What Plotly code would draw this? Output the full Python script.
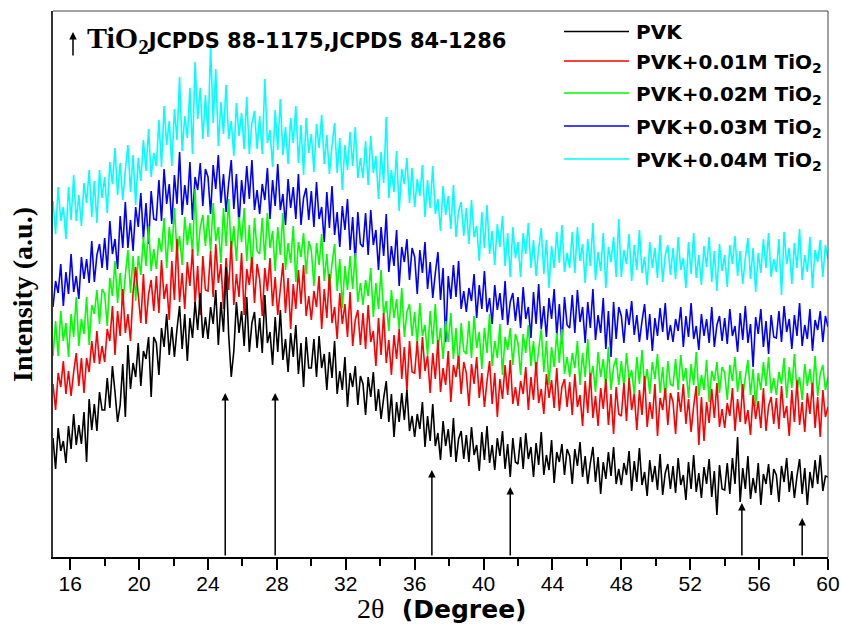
import numpy as np
import plotly.graph_objects as go

# 2-theta grid (degrees), 0.15 deg step from 15 to 60
two_theta = np.round(np.linspace(15, 60, 301), 2)

pvk = [
    119, 88, 129, 106, 116, 94, 131, 108, 143, 112, 132, 113, 145, 95, 158, 127, 153, 126, 165, 147,
    147, 179, 149, 191, 165, 135, 152, 193, 140, 212, 168, 194, 180, 214, 171, 206, 198, 220, 160, 220,
    214, 182, 229, 210, 243, 202, 230, 200, 228, 251, 208, 243, 196, 239, 219, 255, 227, 264, 219, 240,
    218, 250, 233, 267, 212, 255, 225, 290, 222, 180, 206, 255, 224, 246, 211, 260, 205, 234, 245, 209,
    239, 204, 262, 214, 225, 192, 240, 205, 247, 197, 218, 185, 224, 200, 232, 183, 214, 170, 220, 189,
    189, 218, 180, 221, 189, 203, 167, 205, 179, 216, 163, 186, 167, 200, 150, 184, 170, 191, 152, 181,
    173, 142, 180, 160, 185, 146, 168, 138, 159, 176, 135, 163, 120, 155, 135, 164, 137, 167, 126, 141,
    120, 143, 128, 155, 110, 141, 116, 153, 111, 124, 97, 136, 111, 128, 100, 139, 95, 118, 126, 98,
    122, 95, 130, 102, 112, 86, 125, 97, 131, 94, 112, 87, 119, 101, 126, 88, 113, 80, 119, 95,
    93, 120, 88, 124, 98, 110, 80, 114, 92, 125, 82, 102, 87, 117, 74, 105, 95, 113, 82, 108,
    101, 73, 108, 91, 115, 80, 101, 73, 94, 110, 75, 100, 63, 95, 78, 105, 81, 110, 73, 88,
    72, 94, 82, 106, 66, 96, 75, 109, 72, 85, 61, 97, 75, 91, 67, 103, 62, 84, 93, 68,
    91, 64, 99, 72, 82, 57, 95, 68, 102, 65, 84, 59, 90, 73, 98, 60, 86, 42, 92, 68,
    67, 94, 63, 99, 73, 120, 55, 89, 68, 101, 58, 79, 64, 94, 52, 83, 73, 93, 62, 88,
    82, 55, 91, 75, 99, 65, 86, 59, 81, 98, 63, 89, 52, 85, 69, 97, 73, 102, 66, 81,
    80,
]

pvk_001 = [
    173, 147, 184, 170, 196, 163, 186, 161, 185, 204, 171, 199, 164, 199, 185, 216, 194, 226, 193, 211,
    195, 228, 216, 251, 202, 246, 221, 268, 224, 243, 216, 265, 290, 263, 234, 283, 233, 263, 277, 246,
    281, 244, 297, 258, 273, 237, 296, 257, 318, 255, 284, 248, 295, 271, 308, 253, 291, 242, 301, 267,
    266, 306, 260, 313, 274, 293, 248, 299, 267, 316, 252, 283, 260, 304, 242, 288, 272, 300, 254, 293,
    278, 241, 289, 266, 299, 251, 280, 242, 270, 294, 244, 279, 228, 273, 248, 287, 253, 292, 241, 261,
    237, 266, 250, 281, 228, 268, 239, 283, 234, 250, 218, 264, 233, 253, 220, 265, 211, 237, 247, 212,
    244, 208, 252, 215, 226, 191, 239, 202, 244, 194, 217, 182, 222, 198, 228, 178, 210, 166, 216, 185,
    184, 216, 178, 220, 186, 201, 164, 204, 178, 217, 165, 189, 172, 206, 155, 192, 180, 201, 163, 195,
    184, 151, 193, 173, 200, 159, 184, 150, 176, 196, 153, 184, 140, 178, 158, 192, 162, 197, 153, 170,
    151, 176, 163, 190, 147, 180, 157, 195, 154, 168, 143, 183, 159, 177, 149, 189, 146, 170, 178, 150,
    175, 142, 183, 150, 162, 131, 176, 144, 184, 139, 161, 131, 169, 148, 178, 132, 163, 123, 170, 143,
    141, 174, 136, 179, 147, 163, 127, 167, 142, 181, 130, 155, 138, 173, 121, 159, 147, 169, 132, 164,
    155, 123, 165, 145, 173, 133, 158, 125, 151, 171, 112, 160, 116, 155, 134, 168, 139, 174, 130, 148,
    129, 154, 141, 169, 126, 158, 135, 173, 133, 147, 122, 162, 138, 156, 129, 169, 126, 151, 160, 133,
    159, 128, 171, 139, 151, 121, 167, 135, 177, 132, 155, 125, 164, 143, 174, 129, 160, 120, 167, 140,
    150,
]

pvk_002 = [
    201, 236, 201, 246, 216, 234, 200, 243, 220, 260, 211, 238, 223, 260, 212, 252, 243, 267, 233, 268,
    263, 231, 279, 261, 296, 254, 284, 252, 282, 307, 264, 301, 256, 301, 282, 320, 291, 331, 286, 308,
    288, 319, 305, 339, 289, 330, 305, 349, 304, 321, 292, 340, 312, 334, 304, 368, 301, 330, 342, 311,
    342, 306, 354, 316, 330, 294, 349, 311, 358, 306, 331, 296, 340, 315, 349, 296, 332, 284, 339, 306,
    303, 339, 297, 344, 309, 326, 286, 330, 302, 344, 287, 314, 294, 331, 275, 315, 300, 324, 283, 316,
    307, 271, 314, 292, 323, 276, 303, 267, 293, 313, 266, 298, 249, 291, 267, 301, 268, 304, 255, 274,
    252, 277, 261, 289, 240, 274, 248, 287, 242, 256, 226, 267, 239, 258, 228, 269, 220, 245, 253, 221,
    245, 213, 254, 221, 232, 201, 246, 213, 253, 207, 229, 198, 236, 215, 244, 198, 229, 188, 234, 206,
    203, 236, 199, 241, 209, 225, 188, 229, 204, 243, 191, 216, 199, 233, 182, 220, 207, 229, 192, 223,
    214, 182, 223, 204, 232, 191, 216, 183, 208, 228, 185, 216, 172, 210, 190, 224, 194, 228, 183, 200,
    180, 204, 189, 216, 172, 204, 180, 218, 177, 191, 165, 205, 180, 198, 170, 210, 167, 190, 199, 172,
    196, 170, 204, 177, 187, 162, 200, 173, 207, 170, 188, 163, 195, 178, 203, 164, 190, 157, 196, 173,
    171, 198, 167, 202, 176, 189, 159, 193, 172, 205, 161, 182, 167, 197, 155, 186, 176, 195, 164, 190,
    184, 157, 192, 176, 200, 165, 186, 159, 180, 197, 162, 188, 151, 184, 167, 195, 171, 200, 164, 179,
    162, 185, 173, 199, 159, 190, 169, 203, 167, 180, 157, 193, 171, 188, 165, 201, 161, 183, 192, 167,
    180,
]

pvk_003 = [
    250, 276, 264, 293, 251, 285, 263, 303, 265, 281, 258, 300, 278, 298, 274, 316, 275, 302, 313, 289,
    319, 287, 336, 303, 318, 288, 341, 309, 355, 309, 337, 306, 350, 330, 364, 318, 354, 313, 366, 338,
    337, 377, 336, 388, 353, 373, 333, 382, 353, 405, 342, 372, 352, 395, 337, 380, 367, 394, 351, 388,
    380, 343, 392, 368, 402, 354, 383, 345, 374, 397, 348, 383, 332, 377, 353, 391, 358, 397, 347, 367,
    343, 373, 357, 389, 338, 377, 351, 393, 347, 363, 332, 378, 349, 370, 338, 383, 332, 359, 369, 337,
    366, 330, 375, 338, 350, 315, 365, 329, 371, 322, 345, 310, 351, 327, 358, 307, 340, 295, 345, 313,
    310, 344, 302, 347, 312, 327, 287, 330, 301, 343, 285, 311, 291, 327, 271, 310, 295, 318, 277, 309,
    300, 263, 307, 284, 315, 268, 295, 259, 284, 305, 257, 289, 215, 281, 258, 292, 260, 296, 248, 266,
    245, 269, 256, 283, 239, 272, 248, 286, 245, 259, 233, 272, 247, 264, 237, 276, 232, 255, 264, 236,
    260, 229, 270, 238, 250, 219, 265, 233, 273, 228, 251, 220, 259, 238, 268, 222, 253, 213, 260, 232,
    229, 262, 224, 267, 235, 250, 214, 255, 229, 268, 217, 242, 224, 259, 208, 246, 200, 255, 218, 250,
    241, 214, 248, 232, 256, 222, 242, 215, 236, 253, 217, 243, 206, 239, 221, 249, 225, 254, 217, 232,
    215, 238, 226, 250, 210, 241, 220, 254, 218, 231, 207, 243, 221, 238, 214, 250, 210, 232, 241, 216,
    239, 213, 248, 221, 231, 205, 244, 217, 251, 214, 233, 190, 240, 223, 248, 210, 236, 203, 242, 220,
    219, 246, 215, 251, 225, 238, 208, 242, 221, 254, 211, 232, 218, 248, 206, 237, 227, 246, 215, 241,
    230,
]

pvk_004 = [
    356, 323, 370, 336, 350, 318, 370, 337, 382, 336, 362, 331, 374, 354, 387, 340, 376, 334, 387, 359,
    380, 344, 395, 373, 409, 362, 394, 357, 387, 412, 365, 402, 352, 399, 376, 417, 386, 428, 380, 404,
    391, 437, 390, 451, 412, 436, 391, 448, 417, 480, 406, 441, 419, 469, 403, 495, 438, 469, 418, 462,
    420, 512, 434, 488, 411, 455, 423, 472, 418, 436, 401, 454, 421, 444, 408, 460, 403, 434, 446, 408,
    441, 403, 478, 414, 427, 390, 447, 407, 458, 402, 430, 393, 439, 414, 451, 394, 432, 382, 439, 404,
    423, 385, 433, 409, 442, 393, 422, 383, 411, 434, 384, 419, 367, 412, 387, 425, 391, 430, 379, 399,
    379, 416, 372, 421, 384, 401, 358, 405, 374, 440, 359, 387, 365, 406, 346, 388, 373, 399, 354, 389,
    350, 378, 361, 392, 340, 377, 349, 391, 343, 358, 326, 371, 342, 361, 328, 372, 320, 346, 355, 321,
    349, 313, 357, 320, 331, 296, 345, 309, 352, 303, 326, 292, 333, 310, 341, 291, 324, 280, 330, 299,
    315, 280, 324, 303, 334, 289, 317, 281, 308, 329, 283, 317, 269, 311, 289, 325, 294, 332, 285, 304,
    289, 325, 284, 330, 296, 313, 274, 318, 291, 334, 277, 305, 286, 324, 269, 310, 295, 320, 280, 338,
    280, 307, 293, 323, 276, 312, 287, 327, 284, 300, 272, 315, 289, 309, 279, 322, 275, 302, 312, 282,
    309, 278, 320, 287, 299, 269, 315, 283, 324, 279, 302, 272, 311, 290, 320, 275, 306, 266, 313, 286,
    302, 270, 312, 293, 321, 281, 306, 273, 299, 319, 278, 309, 265, 304, 284, 318, 289, 324, 280, 298,
    285, 318, 262, 325, 293, 309, 273, 314, 289, 328, 277, 302, 285, 320, 269, 307, 295, 317, 280, 312,
    298,
]

series_names = ["PVK", "PVK+0.01M TiO<sub>2</sub>", "PVK+0.02M TiO<sub>2</sub>",
                "PVK+0.03M TiO<sub>2</sub>", "PVK+0.04M TiO<sub>2</sub>"]
series_values = [pvk, pvk_001, pvk_002, pvk_003, pvk_004]
series_colors = ["#000000", "#ff0000", "#00ff00", "#0000ff", "#00ffff"]

# TiO2 reference peak markers (JCPDS 88-1175, 84-1286): position and arrow-tip height
peak_pos = [25.0, 27.9, 37.0, 41.55, 55.0, 58.5]
peak_tip = [164, 164, 87, 70, 54, 39]

x_ticks = [16, 20, 24, 28, 32, 36, 40, 44, 48, 52, 56, 60]

for v in series_values:
    assert len(v) == len(two_theta)

fig = go.Figure()
# draw top series first so lower series are on top
for name, vals, col in reversed(list(zip(series_names, series_values, series_colors))):
    fig.add_trace(go.Scatter(x=two_theta, y=vals, mode="lines", name=name,
                             line=dict(color=col, width=1.6), showlegend=False))

SANS = "Liberation Sans, Arial, sans-serif"
BOLD = "DejaVu Sans, sans-serif"
SERIF = "Liberation Serif, Times New Roman, serif"

L, R, T, B = 53, 14, 11, 70
W, H = 842, 627
PW, PH = W - L - R, H - T - B


def px_x(p):
    return (p - L) / PW


def px_y(p):
    return (H - B - p) / PH


fig.update_layout(
    width=W, height=H,
    margin=dict(l=L, r=R, t=T, b=B, pad=0, autoexpand=False),
    plot_bgcolor="white", paper_bgcolor="white",
    showlegend=False,
    xaxis=dict(range=[15, 60], tickvals=x_ticks, ticks="outside", ticklen=11, tickwidth=2,
               tickcolor="black", showline=True, linewidth=2, linecolor="black",
               showgrid=False, zeroline=False, automargin=False, ticklabelstandoff=-4,
               tickfont=dict(family=SANS, size=21, color="black"),
               minor=dict(tickvals=[18, 22, 26, 30, 34, 38, 42, 46, 50, 54, 58],
                          ticks="outside", ticklen=7, tickwidth=2, tickcolor="black")),
    yaxis=dict(range=[0, 546], showticklabels=False, ticks="", showline=True, linewidth=1.5,
               linecolor="#333333", showgrid=False, zeroline=False, automargin=False),
)

# frame top and right
fig.add_shape(type="line", xref="paper", yref="paper", x0=0, x1=1, y0=1, y1=1,
              line=dict(color="#444444", width=1))
fig.add_shape(type="line", xref="paper", yref="paper", x0=1, x1=1, y0=0, y1=1,
              line=dict(color="#444444", width=1))

# peak arrows
for p, h in zip(peak_pos, peak_tip):
    fig.add_annotation(x=p, y=h, ax=p, ay=0, xref="x", yref="y", axref="x", ayref="y",
                       text="", showarrow=True, arrowhead=2, arrowsize=1, arrowwidth=1.5,
                       arrowcolor="black")

# top-left note
fig.add_annotation(xref="paper", yref="paper", x=px_x(73), y=px_y(32), ax=0, ay=25,
                   text="", showarrow=True, arrowhead=2, arrowsize=1, arrowwidth=1.5,
                   arrowcolor="black")
fig.add_annotation(xref="paper", yref="paper", x=px_x(85), y=px_y(40), xanchor="left",
                   yanchor="middle", showarrow=False,
                   text='<span style="font-family:Liberation Serif;font-size:30px">TiO<sub>2</sub></span>'
                        'JCPDS 88-1175,JCPDS 84-1286',
                   font=dict(family=BOLD, size=21, color="black", weight="bold"))

# manual legend
legend_rows = [31.5, 61, 93, 126, 159]
for name, col, ry in zip(series_names, series_colors, legend_rows):
    fig.add_shape(type="line", xref="paper", yref="paper", x0=px_x(564), x1=px_x(629),
                  y0=px_y(ry), y1=px_y(ry), line=dict(color=col, width=1.5))
    fig.add_annotation(xref="paper", yref="paper", x=px_x(634), y=px_y(ry - 13),
                       xanchor="left", yanchor="top", showarrow=False, text=name,
                       font=dict(family=BOLD, size=20, color="black", weight="bold"))

# axis titles
fig.add_annotation(xref="paper", yref="paper", x=px_x(442), y=px_y(608), xanchor="center",
                   yanchor="middle", showarrow=False,
                   text='<span style="font-family:Liberation Serif;font-size:28px;font-weight:normal">2θ</span>'
                        '\u00a0\u00a0(Degree)',
                   font=dict(family=BOLD, size=25, color="black", weight="bold"))
fig.add_annotation(xref="paper", yref="paper", x=px_x(23), y=px_y(295), xanchor="center",
                   yanchor="middle", showarrow=False, textangle=-90,
                   text="Intensity (a.u.)",
                   font=dict(family=SERIF, size=28, color="black", weight="bold"))

fig.write_html("out.html")
